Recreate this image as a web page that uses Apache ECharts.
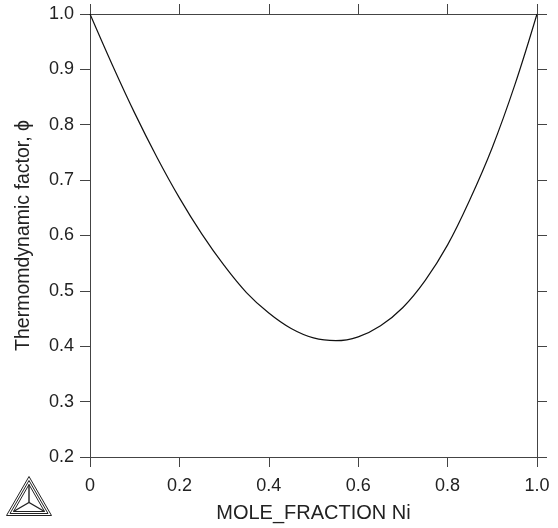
<!DOCTYPE html>
<html>
<head>
<meta charset="utf-8">
<script src="https://cdn.jsdelivr.net/npm/echarts@6/dist/echarts.min.js"></script>
<style>
  html, body { margin: 0; padding: 0; background: #fff; }
  #chart { width: 558px; height: 528px; }
</style>
</head>
<body>
<div id="chart"></div>
<script>
// Mole fraction of Ni and the thermodynamic factor at each composition
const moleFractionNi = [0, 0.05, 0.10, 0.15, 0.20, 0.25, 0.30, 0.35, 0.40, 0.45, 0.50,
                        0.55, 0.60, 0.65, 0.70, 0.75, 0.80, 0.85, 0.90, 0.95, 1.0];
const thermoFactor = [1.000, 0.908, 0.821, 0.741, 0.668, 0.603, 0.546, 0.497, 0.460, 0.432, 0.415,
                      0.410, 0.417, 0.437, 0.470, 0.519, 0.583, 0.665, 0.759, 0.871, 1.000];

const xTitle = 'MOLE_FRACTION Ni';
const yTitle = 'Thermomdynamic factor, \u03D5';

const FONT = '"Liberation Sans", Arial, Helvetica, sans-serif';
const INK = '#222';
const AXIS = '#444';

const chart = echarts.init(document.getElementById('chart'), null, { renderer: 'canvas' });

const lineStyle = { color: AXIS, width: 1 };
const baseAxis = {
  type: 'value',
  axisLine: { show: true, onZero: false, lineStyle },
  axisTick: { show: true, inside: false, length: 10, lineStyle },
  splitLine: { show: false }
};

chart.setOption({
  animation: false,
  backgroundColor: '#fff',
  grid: { left: 90, right: 21, top: 14, bottom: 68, containLabel: false },
  xAxis: [
    Object.assign({}, baseAxis, {
      position: 'bottom', min: 0, max: 1, interval: 0.2,
      name: xTitle, nameLocation: 'middle', nameGap: 46,
      nameTextStyle: { fontFamily: FONT, fontSize: 20, color: INK },
      axisLabel: {
        fontFamily: FONT, fontSize: 18, color: INK, margin: 20,
        formatter: v => (v === 0 ? '0' : v.toFixed(1))
      }
    }),
    Object.assign({}, baseAxis, {
      position: 'top', min: 0, max: 1, interval: 0.2,
      axisLabel: { show: false }
    })
  ],
  yAxis: [
    Object.assign({}, baseAxis, {
      position: 'left', min: 0.2, max: 1.0, interval: 0.1,
      name: yTitle, nameLocation: 'middle', nameGap: 56, nameRotate: 90,
      nameTextStyle: { fontFamily: FONT, fontSize: 19.5, color: INK },
      axisLabel: {
        fontFamily: FONT, fontSize: 18, color: INK, margin: 16,
        formatter: v => v.toFixed(1)
      }
    }),
    Object.assign({}, baseAxis, {
      position: 'right', min: 0.2, max: 1.0, interval: 0.1,
      axisLabel: { show: false }
    })
  ],
  series: [{
    type: 'line',
    xAxisIndex: 0,
    yAxisIndex: 0,
    data: moleFractionNi.map((x, i) => [x, thermoFactor[i]]),
    smooth: 0.4,
    showSymbol: false,
    lineStyle: { color: '#111', width: 1.2 }
  }],
  graphic: [{
    // Thermo-Calc style triangle emblem in the lower-left corner
    type: 'group',
    left: 4,
    top: 474,
    children: [
      { type: 'polygon', shape: { points: [[22.5, 0], [0, 39], [45, 39]] },
        style: { fill: 'none', stroke: '#222', lineWidth: 1 } },
      { type: 'polygon', shape: { points: [[22.5, 4], [3.5, 37], [41.5, 37]] },
        style: { fill: 'none', stroke: '#222', lineWidth: 1 } },
      { type: 'polygon', shape: { points: [[22.5, 8], [7, 35], [38, 35]] },
        style: { fill: 'none', stroke: '#222', lineWidth: 1 } },
      { type: 'polyline', shape: { points: [[22.5, 8], [22.5, 26]] },
        style: { stroke: '#222', lineWidth: 1.4 } },
      { type: 'polyline', shape: { points: [[7, 35], [22.5, 26], [38, 35]] },
        style: { fill: 'none', stroke: '#222', lineWidth: 1.4 } }
    ]
  }]
});
</script>
</body>
</html>
